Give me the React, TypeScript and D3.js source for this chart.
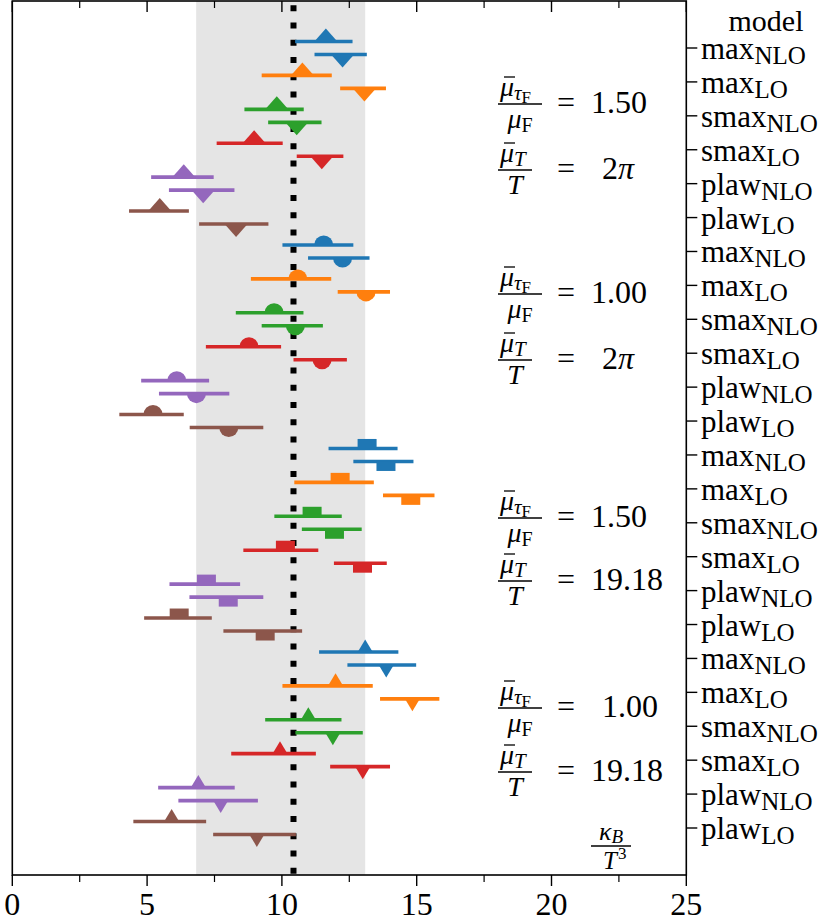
import React from "react";
import * as d3 from "d3";

// ---- data ----
const modelBases = ["max", "max", "smax", "smax", "plaw", "plaw"];
const modelSubs = ["NLO", "LO", "NLO", "LO", "NLO", "LO"];
const colors = ["#1f77b4", "#ff7f0e", "#2ca02c", "#d62728", "#9467bd", "#8c564b"];
const sectionMarkers = ["triWide", "circle", "square", "triNarrow"];

// [lo, center, hi] per model, "up" (marker above) and "down" (marker below)
const sec1Up = [[10.49, 11.63, 12.62], [9.25, 10.76, 11.85], [8.61, 9.81, 10.81], [7.58, 8.97, 10.03], [5.15, 6.36, 7.47], [4.33, 5.47, 6.55]];
const sec1Down = [[11.21, 12.25, 13.15], [12.16, 13.06, 13.86], [9.49, 10.55, 11.47], [10.55, 11.48, 12.28], [5.81, 7.08, 8.24], [6.93, 8.3, 9.5]];
const sec2Up = [[10.02, 11.55, 12.65], [8.85, 10.59, 11.83], [8.29, 9.71, 10.8], [7.18, 8.78, 9.97], [4.78, 6.1, 7.3], [3.97, 5.22, 6.36]];
const sec2Down = [[10.97, 12.25, 13.25], [12.07, 13.12, 14.01], [9.25, 10.5, 11.52], [10.43, 11.49, 12.41], [5.44, 6.83, 8.05], [6.58, 8.03, 9.31]];
const sec3Up = [[11.73, 13.16, 14.29], [10.46, 12.16, 13.41], [9.72, 11.12, 12.22], [8.57, 10.13, 11.35], [5.83, 7.2, 8.45], [4.89, 6.19, 7.4]];
const sec3Down = [[12.65, 13.86, 14.88], [13.75, 14.78, 15.66], [10.74, 11.95, 12.96], [11.93, 12.99, 13.89], [6.57, 8.01, 9.31], [7.83, 9.38, 10.75]];
const sec4Up = [[11.38, 13.09, 14.32], [10.02, 11.99, 13.37], [9.38, 10.98, 12.21], [8.12, 9.93, 11.26], [5.41, 6.9, 8.25], [4.49, 5.91, 7.19]];
const sec4Down = [[12.43, 13.87, 14.98], [13.64, 14.84, 15.84], [10.5, 11.89, 13.0], [11.79, 13.0, 14.01], [6.16, 7.73, 9.11], [7.45, 9.07, 10.52]];

const sectionsUp = [sec1Up, sec2Up, sec3Up, sec4Up];
const sectionsDown = [sec1Down, sec2Down, sec3Down, sec4Down];

const bandRange = [6.82, 13.09];
const refValue = 10.43;

const xTicksMajor = [0, 5, 10, 15, 20, 25];
const xTicksMinor = [2.5, 7.5, 12.5, 17.5, 22.5];

const tauRatios = ["1.50", "1.00", "1.50", "1.00"];
const muTRatios = ["2π", "2π", "19.18", "19.18"];

const FONT = "'Liberation Serif', 'DejaVu Serif', serif";

function markerPath(kind: string, cx: number, cy: number, up: boolean): string {
  const s = up ? -1 : 1;
  if (kind === "triWide") {
    return `M${cx - 11.5},${cy} L${cx},${cy + s * 13} L${cx + 11.5},${cy} Z`;
  }
  if (kind === "triNarrow") {
    return `M${cx - 7.5},${cy} L${cx},${cy + s * 12.5} L${cx + 7.5},${cy} Z`;
  }
  if (kind === "circle") {
    const r = 9.5;
    return `M${cx - r},${cy} A${r},${r} 0 0 ${up ? 1 : 0} ${cx + r},${cy} Z`;
  }
  const h = 9.5;
  return `M${cx - 9.5},${cy} L${cx - 9.5},${cy + s * h} L${cx + 9.5},${cy + s * h} L${cx + 9.5},${cy} Z`;
}

export default function App() {
  const W = 831;
  const H = 923;
  const left = 12.3, right = 686.3, top = 1, bottom = 875;
  const x = d3.scaleLinear().domain([0, 25]).range([left, right]);
  const y = d3.scaleLinear().domain([0, 23]).range([48, 828]);
  const off = 6.5;

  const marks: React.ReactNode[] = [];
  sectionMarkers.forEach((kind, si) => {
    [true, false].forEach((up) => {
      const arr = up ? sectionsUp[si] : sectionsDown[si];
      arr.forEach((d, mi) => {
        const row = si * 6 + mi;
        const cy = y(row) + (up ? -off : off);
        const c = colors[mi];
        marks.push(
          <g key={`${si}-${mi}-${up}`}>
            <line x1={x(d[0])} x2={x(d[2])} y1={cy} y2={cy} stroke={c} strokeWidth={3.6} />
            <path d={markerPath(kind, x(d[1]), cy, up)} fill={c} />
          </g>
        );
      });
    });
  });

  const rows = d3.range(24);

  const blockBase = [[113, 179], [303, 369], [527, 590], [717, 781]];
  const numX = [[591, 602], [591, 602], [591, 591], [602, 591]];

  const Frac1 = (B: number) => (
    <g>
      <line x1={498} x2={542} y1={B - 9} y2={B - 9} stroke="#000" strokeWidth={1.3} />
      <line x1={504} x2={515} y1={B - 36} y2={B - 36} stroke="#000" strokeWidth={1.3} />
      <text x={500} y={B - 17} fontFamily={FONT}>
        <tspan fontStyle="italic" fontSize={28}>μ</tspan>
        <tspan fontStyle="italic" fontSize={21} dy={4}>τ</tspan>
        <tspan fontSize={17} dy={3}>F</tspan>
      </text>
      <text x={520} y={B + 15} textAnchor="middle" fontFamily={FONT}>
        <tspan fontStyle="italic" fontSize={28}>μ</tspan>
        <tspan fontSize={20} dy={4}>F</tspan>
      </text>
    </g>
  );
  const Frac2 = (B: number) => (
    <g>
      <line x1={498} x2={532} y1={B - 9} y2={B - 9} stroke="#000" strokeWidth={1.3} />
      <line x1={504} x2={515} y1={B - 36} y2={B - 36} stroke="#000" strokeWidth={1.3} />
      <text x={500} y={B - 17} fontFamily={FONT}>
        <tspan fontStyle="italic" fontSize={28}>μ</tspan>
        <tspan fontStyle="italic" fontSize={21} dy={4}>T</tspan>
      </text>
      <text x={515} y={B + 15} textAnchor="middle" fontFamily={FONT} fontStyle="italic" fontSize={28}>T</text>
    </g>
  );

  return (
    <svg width={W} height={H} style={{ display: "block", position: "absolute", left: 0, top: 0 }}>
      <rect x={0} y={0} width={W} height={H} fill="#fff" />
      <rect x={x(bandRange[0])} y={top} width={x(bandRange[1]) - x(bandRange[0])} height={bottom - top} fill="#e5e5e5" />
      <line x1={x(refValue)} x2={x(refValue)} y1={top} y2={bottom} stroke="#000" strokeWidth={6}
        strokeDasharray="6 11.25" strokeDashoffset={12.95} />
      {marks}
      <rect x={left} y={top} width={right - left} height={bottom - top} fill="none" stroke="#000" strokeWidth={1.6} />
      {xTicksMajor.map((t) => (
        <g key={`M${t}`}>
          <line x1={x(t)} x2={x(t)} y1={bottom} y2={bottom + 11} stroke="#000" strokeWidth={1.4} />
          <line x1={x(t)} x2={x(t)} y1={top} y2={top + 11} stroke="#000" strokeWidth={1.4} />
          <text x={x(t)} y={915} textAnchor="middle" fontFamily={FONT} fontSize={32}>{t}</text>
        </g>
      ))}
      {xTicksMinor.map((t) => (
        <g key={`m${t}`}>
          <line x1={x(t)} x2={x(t)} y1={bottom} y2={bottom + 7} stroke="#000" strokeWidth={1.2} />
          <line x1={x(t)} x2={x(t)} y1={top} y2={top + 7} stroke="#000" strokeWidth={1.2} />
        </g>
      ))}
      {rows.map((r) => (
        <g key={`r${r}`}>
          <line x1={right} x2={right + 11} y1={y(r)} y2={y(r)} stroke="#000" strokeWidth={1.4} />
          <text x={701} y={y(r) + 11} fontFamily={FONT} fontSize={31}>
            {modelBases[r % 6]}
            <tspan fontSize={25} dy={5}>{modelSubs[r % 6]}</tspan>
          </text>
        </g>
      ))}
      <text x={766} y={31} textAnchor="middle" fontFamily={FONT} fontSize={30}>model</text>
      {blockBase.map((b, i) => (
        <g key={`blk${i}`}>
          {Frac1(b[0])}
          <text x={557} y={b[0]} fontFamily={FONT} fontSize={32}>=</text>
          <text x={numX[i][0]} y={b[0]} fontFamily={FONT} fontSize={32}>{tauRatios[i]}</text>
          {Frac2(b[1])}
          <text x={557} y={b[1]} fontFamily={FONT} fontSize={32}>=</text>
          <text x={numX[i][1]} y={b[1]} fontFamily={FONT} fontSize={32}>
            {muTRatios[i] === "2π" ? (<><tspan>2</tspan><tspan fontStyle="italic">π</tspan></>) : muTRatios[i]}
          </text>
        </g>
      ))}
      <line x1={591} x2={631} y1={846} y2={846} stroke="#000" strokeWidth={1.3} />
      <text x={611} y={840} textAnchor="middle" fontFamily={FONT}>
        <tspan fontStyle="italic" fontSize={26}>κ</tspan>
        <tspan fontStyle="italic" fontSize={19} dy={3}>B</tspan>
      </text>
      <text x={603} y={869} fontFamily={FONT}>
        <tspan fontStyle="italic" fontSize={25}>T</tspan>
        <tspan fontSize={17} dy={-10} dx={1}>3</tspan>
      </text>
    </svg>
  );
}
